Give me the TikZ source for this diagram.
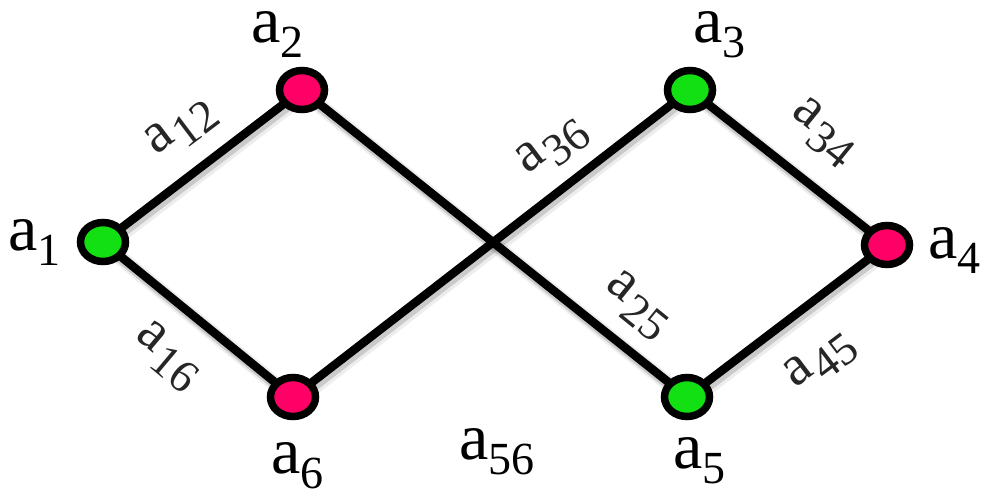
\documentclass[tikz,border=0pt]{standalone}
\usepackage{fontspec}
\setmainfont{Liberation Serif}
\newfontfamily\tms{Liberation Serif}
\usetikzlibrary{shapes.geometric}
\definecolor{vgreen}{HTML}{12E012}
\definecolor{vpink}{HTML}{FF0066}
\newcommand\nlab[1]{\tms\fontsize{66}{70}\selectfont a\raisebox{-15pt}{\tms\fontsize{46}{50}\selectfont #1}}
\newcommand\elab[1]{\tms\fontsize{57}{60}\selectfont a\kern3pt\raisebox{-13pt}{\tms\fontsize{46}{50}\selectfont #1}}
\tikzset{
  vert/.style={ellipse, draw=black, line width=7.5pt, minimum width=45pt, minimum height=39pt, inner sep=0pt},
  gv/.style={vert, fill=vgreen},
  pv/.style={vert, fill=vpink},
  edge/.style={line width=8.5pt, black},
  shade1/.style={line width=15pt, black, opacity=0.07},
  shade2/.style={line width=11pt, black, opacity=0.15},
  nl/.style={anchor=base west, inner sep=0pt, text=black, font=\tms},
  el/.style={anchor=base west, inner sep=0pt, text=black!85, font=\tms},
}
\begin{document}
\begin{tikzpicture}[x=1pt,y=-1pt]
\useasboundingbox (0,0) rectangle (990,490);
\coordinate (p1) at (103,242);
\coordinate (p2) at (302,90);
\coordinate (p3) at (690,90);
\coordinate (p4) at (887,245);
\coordinate (p5) at (687,397);
\coordinate (p6) at (293,397);
% shadows
\foreach \s/\t in {p1/p2,p1/p6,p2/p5,p6/p3,p3/p4,p4/p5}{
  \draw[shade1] ([shift={(3,4)}]\s) -- ([shift={(3,4)}]\t);
  \draw[shade2] ([shift={(2,3)}]\s) -- ([shift={(2,3)}]\t);
}
% edges
\draw[edge] (p1) -- (p2);
\draw[edge] (p1) -- (p6);
\draw[edge] (p2) -- (p5);
\draw[edge] (p6) -- (p3);
\draw[edge] (p3) -- (p4);
\draw[edge] (p4) -- (p5);
% vertices
\node[gv] (n1) at (p1) {};
\node[pv] (n2) at (p2) {};
\node[gv] (n3) at (p3) {};
\node[pv] (n4) at (p4) {};
\node[gv] (n5) at (p5) {};
\node[pv] (n6) at (p6) {};
% vertex labels
\node[nl] (l1) at (8,250) {\nlab{1}};
\node[nl] (l2) at (251,42) {\nlab{2}};
\node[nl] (l3) at (693,42) {\nlab{3}};
\node[nl] (l4) at (928,258) {\nlab{4}};
\node[nl] (l5) at (673,468) {\nlab{5}};
\node[nl] (l6) at (271,473) {\nlab{6}};
\node[nl] (l56) at (459,459) {\nlab{56}};
% edge labels
\node[el, rotate=37] (e12) at (156,156) {\elab{12}};
\node[el, rotate=-40] (e16) at (134,337) {\elab{16}};
\node[el, rotate=37] (e36) at (527,175) {\elab{36}};
\node[el, rotate=-39] (e34) at (790,114) {\elab{34}};
\node[el, rotate=-39] (e25) at (604,287) {\elab{25}};
\node[el, rotate=37] (e45) at (795,389) {\elab{45}};
\end{tikzpicture}
\end{document}
